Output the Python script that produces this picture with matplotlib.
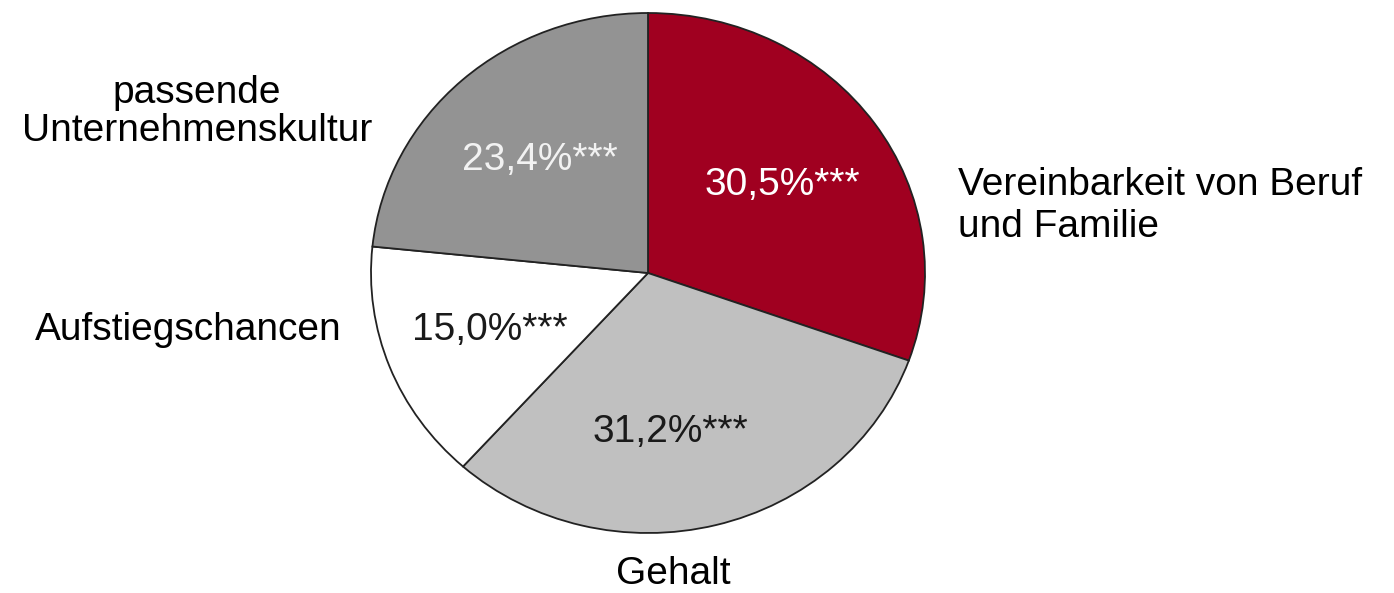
import matplotlib
matplotlib.use('Agg')
import matplotlib.pyplot as plt

plt.rcParams['font.family'] = ['Liberation Sans', 'DejaVu Sans']

# shares, clockwise from the top
categories = ['Vereinbarkeit von Beruf\nund Familie', 'Gehalt', 'Aufstiegschancen',
              'passende\nUnternehmenskultur']
shares = [30.5, 31.2, 15.0, 23.4]
share_labels = ['30,5%***', '31,2%***', '15,0%***', '23,4%***']
colors = ['#a00020', '#c0c0c0', '#ffffff', '#939393']
pct_colors = ['white', '#1a1a1a', '#1a1a1a', '#f2f2f2']

W, H = 1394, 593
fig = plt.figure(figsize=(W / 100, H / 100), dpi=100)
ax = fig.add_axes([0, 0, 1, 1])

# the pie in the original is slightly wider than tall
sx = 277 / 260
cx, cy, r = 648, 273, 260

wedges, _ = ax.pie(shares, colors=colors, startangle=90, counterclock=False,
                   radius=r, center=(cx / sx, H - cy),
                   wedgeprops=dict(edgecolor='#222222', linewidth=1.3))
ax.set_xlim(0, W / sx)
ax.set_ylim(0, H)
ax.set_aspect('auto')
ax.axis('off')

fs = 28

# percentage labels inside the wedges (pixel positions from the original)
pct_pos = [(782, 185), (670, 432), (490, 330), (540, 160)]
for (px, py), txt, c in zip(pct_pos, share_labels, pct_colors):
    fig.text(px / W, 1 - py / H, txt, color=c, fontsize=fs, ha='center', va='center')

# category labels outside the pie
fig.text(958 / W, 1 - 206 / H, categories[0], fontsize=fs, ha='left', va='center',
         linespacing=1.2)
fig.text(673 / W, 1 - 574 / H, categories[1], fontsize=fs, ha='center', va='center')
fig.text(188 / W, 1 - 330 / H, categories[2], fontsize=fs, ha='center', va='center')
fig.text(197 / W, 1 - 112 / H, categories[3], fontsize=fs, ha='center', va='center',
         linespacing=1.1)

fig.savefig('out.png', dpi=100, facecolor='white')
